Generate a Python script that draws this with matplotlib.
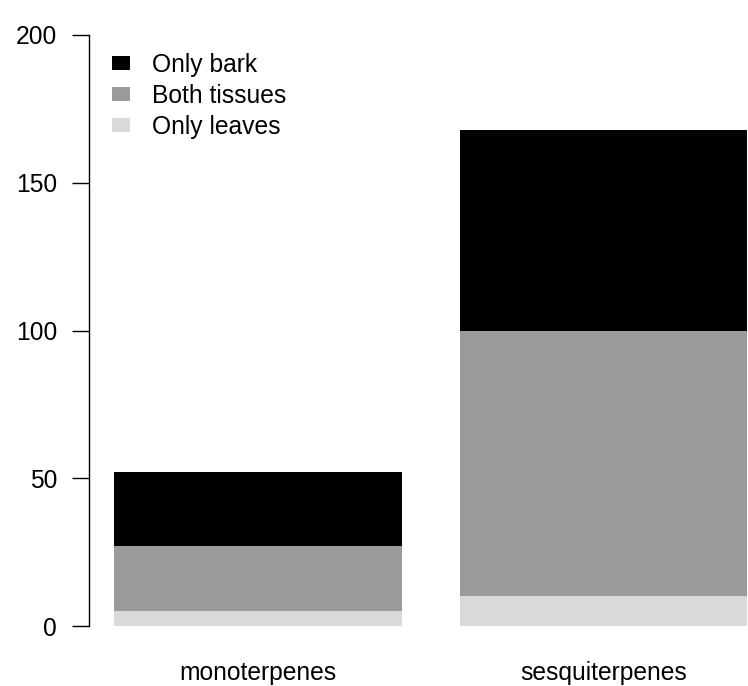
import matplotlib.pyplot as plt
from matplotlib.patches import Patch
import numpy as np

plt.rcParams['font.family'] = ['Liberation Sans', 'DejaVu Sans']

# terpene classes and counts per tissue group
groups = ['monoterpenes', 'sesquiterpenes']
only_leaves = [5, 10]
both_tissues = [22, 90]
only_bark = [25, 68]

series = ['Only leaves', 'Both tissues', 'Only bark']
colours = ['#d9d9d9', '#9a9a9a', '#000000']

fs = 17.7

fig = plt.figure(figsize=(7.48, 6.86), dpi=100)
# axes box in pixels: left spine at x=89, y from 626 (0) to 35 (200)
ax = fig.add_axes([89 / 748, 60 / 686, (748 - 89) / 748, 591 / 686])

# R style barplot positions: width 1, space 0.2
centres = 0.2 + 0.5 + np.arange(len(groups)) * 1.2
bottom = np.zeros(len(groups))
for vals, col in zip([only_leaves, both_tissues, only_bark], colours):
    ax.bar(centres, vals, width=1.0, bottom=bottom, color=col,
           edgecolor='none', linewidth=0)
    bottom += np.array(vals)

ax.set_xlim(0.112, 2.402)
ax.set_ylim(0, 200)

for side in ['top', 'right', 'bottom']:
    ax.spines[side].set_visible(False)
ax.spines['left'].set_bounds(0, 200)
ax.spines['left'].set_linewidth(1.0)

ax.set_yticks([0, 50, 100, 150, 200])
ax.tick_params(axis='y', length=12, width=1.0, pad=11, labelsize=fs)
ax.set_xticks(centres)
ax.set_xticklabels(groups, fontsize=fs)
ax.tick_params(axis='x', length=0, pad=25)

handles = [Patch(facecolor=colours[2], edgecolor='none'),
           Patch(facecolor=colours[1], edgecolor='none'),
           Patch(facecolor=colours[0], edgecolor='none')]
labels = ['Only bark', 'Both tissues', 'Only leaves']
fig.legend(handles, labels, loc='upper left',
           bbox_to_anchor=(112 / 748, 1 - 53 / 686),
           frameon=False, fontsize=fs, handlelength=0.72, handleheight=0.5,
           handletextpad=0.9, labelspacing=0.28, borderpad=0, borderaxespad=0)

fig.savefig('out.png', dpi=100)
